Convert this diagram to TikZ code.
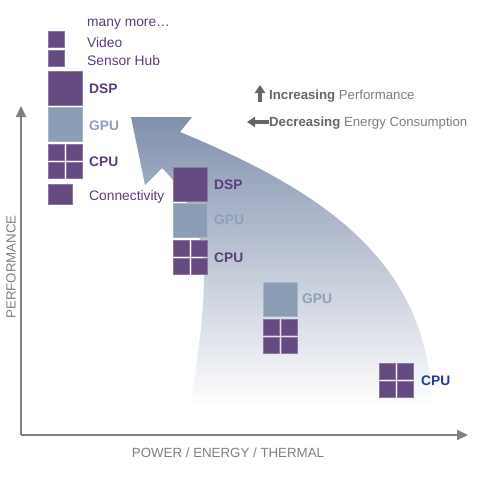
\documentclass[tikz,border=0pt]{standalone}
\usepackage{fontspec}
\setmainfont{Liberation Sans}
\usetikzlibrary{arrows.meta}
\definecolor{boxpurple}{HTML}{654A82}
\definecolor{boxgpu}{HTML}{8B9CB5}
\definecolor{txtpurple}{HTML}{5A3D7C}
\definecolor{txtgpu}{HTML}{8D9FBA}
\definecolor{txtblue}{HTML}{1E3B9B}
\definecolor{axisgray}{HTML}{808080}
\definecolor{leggray}{HTML}{666666}
\definecolor{legreg}{HTML}{7E7E7E}
\definecolor{swtop}{HTML}{8090AD}
\definecolor{swmid}{HTML}{BAC3D3}
\tikzset{
  pbox/.style={fill=boxpurple, draw=boxpurple!75!white, line width=0.6pt, inner sep=0pt, outer sep=0pt, minimum size=16pt},
  gbox/.style={fill=boxgpu, draw=boxgpu!75!white, line width=0.6pt, inner sep=0pt, outer sep=0pt, minimum size=34pt},
  lbl/.style={anchor=base west, inner sep=0pt, font=\fontsize{13.8}{16}\selectfont, text=txtpurple},
  axisline/.style={draw=axisgray, line width=2pt, -{Triangle[length=11pt,width=10pt]}},
  axislbl/.style={text=axisgray, inner sep=0pt, font=\fontsize{13.3}{15}\selectfont},
  legtxt/.style={anchor=base west, inner sep=0pt, font=\fontsize{13.2}{15}\selectfont, text=legreg},
  legarrow/.style={draw=leggray, line width=3.2pt, -{Triangle[length=8pt,width=10pt]}}
}
\newcommand\cpugrid[3]{%
  \node[pbox] (#1a) at (#2+8,#3+8) {};
  \node[pbox] (#1b) at (#2+26,#3+8) {};
  \node[pbox] (#1c) at (#2+8,#3+26) {};
  \node[pbox] (#1d) at (#2+26,#3+26) {};
}
\begin{document}
\begin{tikzpicture}[x=1pt,y=-1pt]
\useasboundingbox (0,0) rectangle (478,477);
\fill[white] (0,0) rectangle (478,477);

% swoosh arrow
\shade[top color=swtop, middle color=swmid, bottom color=white]
  (131,117) -- (192,117) -- (180,132)
  .. controls (320,190) and (430,260) .. (432,408)
  -- (190,408)
  .. controls (195,370) and (203,330) .. (204,280)
  .. controls (205,240) and (190,195) .. (162,168)
  -- (145,185) -- cycle;

% axes
\coordinate (origin) at (21,435);
\coordinate (ytip) at (21,106);
\coordinate (xtip) at (468,435);
\draw[axisline] (origin) -- (ytip);
\draw[axisline] (origin) -- (xtip);
\node[axislbl, rotate=90] (ylab) at (11,267) {PERFORMANCE};
\node[axislbl] (xlab) at (228,453) {POWER / ENERGY / THERMAL};

% legend
\coordinate (upA) at (260,102);
\coordinate (upB) at (260,85);
\draw[legarrow] (upA) -- (upB);
\node[legtxt] (leg1) at (269,99.5) {\textcolor{leggray}{\textbf{Increasing}} Performance};
\coordinate (lfA) at (269,122);
\coordinate (lfB) at (247,122);
\draw[legarrow] (lfA) -- (lfB);
\node[legtxt] (leg2) at (269,126) {\textcolor{leggray}{\textbf{Decreasing}} Energy Consumption};

% stack 1
\node[lbl] (more) at (87,26) {many more…};
\node[pbox] (video) at (56,39) {};
\node[lbl] (videot) at (87,47) {Video};
\node[pbox] (sensor) at (56,58) {};
\node[lbl] (sensort) at (87,65.5) {Sensor Hub};
\node[pbox, minimum size=34pt] (dspA) at (65,88) {};
\node[lbl] (dspAt) at (89,93.5) {\textbf{DSP}};
\node[gbox] (gpuA) at (65,124) {};
\node[lbl, text=txtgpu] (gpuAt) at (89,130) {\textbf{GPU}};
\cpugrid{cpuA}{48}{144}
\node[lbl] (cpuAt) at (89,166.5) {\textbf{CPU}};
\node[pbox, minimum width=24pt, minimum height=20pt] (conn) at (60,194.5) {};
\node[lbl] (connt) at (89,200) {Connectivity};

% stack 2
\node[pbox, minimum size=34pt] (dspB) at (190,184) {};
\node[lbl] (dspBt) at (214,189.5) {\textbf{DSP}};
\node[gbox] (gpuB) at (190,220) {};
\node[lbl, text=txtgpu] (gpuBt) at (214,224.5) {\textbf{GPU}};
\cpugrid{cpuB}{173}{240}
\node[lbl] (cpuBt) at (214,262) {\textbf{CPU}};

% stack 3
\node[gbox] (gpuC) at (280,299) {};
\node[lbl, text=txtgpu] (gpuCt) at (302,303.5) {\textbf{GPU}};
\cpugrid{cpuC}{263}{319}

% stack 4
\cpugrid{cpuD}{379}{363}
\node[lbl, text=txtblue] (cpuDt) at (421,385.5) {\textbf{CPU}};
\end{tikzpicture}
\end{document}
